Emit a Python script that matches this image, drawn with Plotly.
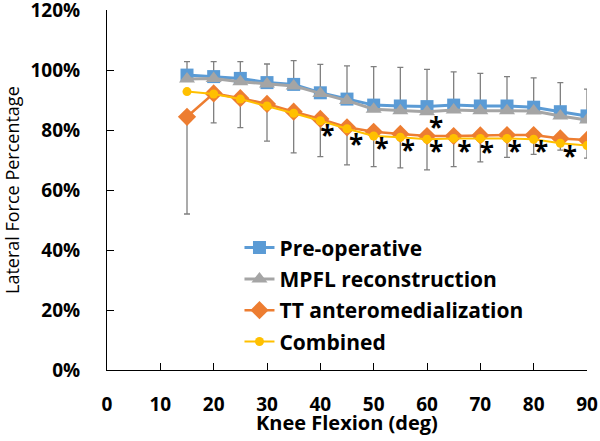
import plotly.graph_objects as go

FLEXION = [15, 20, 25, 30, 35, 40, 45, 50, 55, 60, 65, 70, 75, 80, 85, 90]

PRE_OP = [98.3, 97.8, 97.2, 95.8, 95.2, 92.4, 90.3, 88.3, 88.0, 87.8, 88.3, 88.0, 88.0, 87.6, 86.1, 84.7]
MPFL = [97.0, 97.2, 96.1, 95.3, 94.7, 92.2, 89.8, 86.9, 86.4, 86.1, 86.7, 86.4, 86.4, 86.3, 84.7, 83.3]
TT_AM = [84.4, 92.2, 90.6, 88.7, 86.1, 83.7, 80.9, 79.4, 78.7, 78.0, 78.0, 78.2, 78.3, 78.3, 77.2, 76.7]
COMBINED = [92.8, 92.0, 90.3, 88.0, 85.6, 83.1, 80.4, 78.0, 77.6, 76.9, 77.2, 77.2, 77.2, 76.9, 75.6, 74.8]

# one-sided standard deviations (upper on pre-op, lower on TT)
PRE_OP_SD_UP = [4.5, 5.0, 5.6, 6.2, 7.9, 9.5, 11.1, 12.8, 12.9, 12.4, 11.1, 10.9, 9.8, 9.8, 9.7, 8.9]
TT_SD_DOWN = [32.4, 9.8, 9.8, 12.4, 13.7, 12.6, 12.5, 11.6, 11.3, 11.3, 10.2, 8.8, 7.4, 6.4, 3.9, 6.1]

# significance markers (text anchor positions)
STAR_X = [41.3, 46.7, 51.5, 56.4, 61.7, 61.7, 67.0, 71.2, 76.4, 81.4, 86.8, 91.2]
STAR_Y = [77.2, 74.1, 72.8, 72.2, 79.7, 72.0, 71.7, 71.4, 72.0, 71.7, 70.2, 70.6]

X_TICKS = [0, 10, 20, 30, 40, 50, 60, 70, 80, 90]
Y_TICKS = [0, 20, 40, 60, 80, 100, 120]
Y_TICK_LABELS = ["0%", "20%", "40%", "60%", "80%", "100%", "120%"]

FONT = "Open Sans"
ERR_COLOR = "#7f7f7f"

fig = go.Figure()

# error bars drawn first so they sit behind the markers
fig.add_trace(go.Scatter(
    x=FLEXION, y=PRE_OP, mode="markers",
    marker=dict(size=1, color="rgba(0,0,0,0)"),
    error_y=dict(type="data", symmetric=False, array=PRE_OP_SD_UP,
                 arrayminus=[0] * len(FLEXION), color=ERR_COLOR,
                 thickness=1.3, width=3),
    showlegend=False, hoverinfo="skip",
))
fig.add_trace(go.Scatter(
    x=FLEXION, y=TT_AM, mode="markers",
    marker=dict(size=1, color="rgba(0,0,0,0)"),
    error_y=dict(type="data", symmetric=False, array=[0] * len(FLEXION),
                 arrayminus=TT_SD_DOWN, color=ERR_COLOR,
                 thickness=1.3, width=3),
    showlegend=False, hoverinfo="skip",
))

series = [
    ("Pre-operative", PRE_OP, "#5B9BD5", "square", 13, 3),
    ("MPFL reconstruction", MPFL, "#A5A5A5", "triangle-up", 14, 3),
    ("TT anteromedialization", TT_AM, "#ED7D31", "diamond", 14, 2.5),
    ("Combined", COMBINED, "#FFC000", "circle", 9, 2),
]
for name, vals, color, symbol, msize, lw in series:
    fig.add_trace(go.Scatter(
        x=FLEXION, y=vals, mode="lines+markers", name=name,
        legendgroup=name,
        line=dict(color=color, width=lw),
        marker=dict(symbol=symbol, size=msize, color=color),
    ))

fig.add_trace(go.Scatter(
    x=STAR_X, y=STAR_Y, mode="text", text=["*"] * len(STAR_X),
    textfont=dict(family=FONT, size=26, color="black", weight="bold"),
    showlegend=False, hoverinfo="skip", cliponaxis=False,
))

# axis titles as annotations so the margins stay fixed
fig.add_annotation(
    text="<b>Knee Flexion (deg)</b>", xref="paper", yref="paper",
    x=0.5, y=0, xanchor="center", yanchor="middle", yshift=-52,
    showarrow=False, font=dict(family=FONT, size=20, color="black"),
)
fig.add_annotation(
    text="Lateral Force Percentage", xref="paper", yref="paper",
    x=0, y=0.5, xanchor="center", yanchor="middle", xshift=-95,
    textangle=-90, showarrow=False,
    font=dict(family=FONT, size=18, color="black"),
)

fig.update_layout(
    width=600, height=441,
    margin=dict(l=107, r=13, t=10, b=71),
    paper_bgcolor="white", plot_bgcolor="white",
    font=dict(family=FONT, color="black"),
    showlegend=True,
    legend=dict(
        x=0.276, y=0.396, xanchor="left", yanchor="top",
        font=dict(family=FONT, size=21, color="black", weight="bold"),
        bgcolor="rgba(0,0,0,0)", tracegroupgap=1,
    ),
    xaxis=dict(
        range=[0, 90], tickvals=X_TICKS, automargin=False,
        ticks="inside", ticklen=7, tickcolor="black",
        showline=True, linecolor="black", linewidth=1,
        showgrid=False, zeroline=False,
        ticklabeloverflow="allow", ticklabelstandoff=17,
        tickfont=dict(family=FONT, size=19, weight="bold"),
    ),
    yaxis=dict(
        range=[0, 120], tickvals=Y_TICKS, ticktext=Y_TICK_LABELS,
        automargin=False,
        ticks="inside", ticklen=7, tickcolor="black",
        showline=True, linecolor="black", linewidth=1,
        showgrid=False, zeroline=False,
        ticklabeloverflow="allow", ticklabelstandoff=22,
        tickfont=dict(family=FONT, size=19, weight="bold"),
    ),
)

# page body margin off, so the 600x441 figure fills the window exactly
fig.write_html(
    "out.html",
    config={"displayModeBar": False},
    post_script="document.body.style.margin = '0';",
)
